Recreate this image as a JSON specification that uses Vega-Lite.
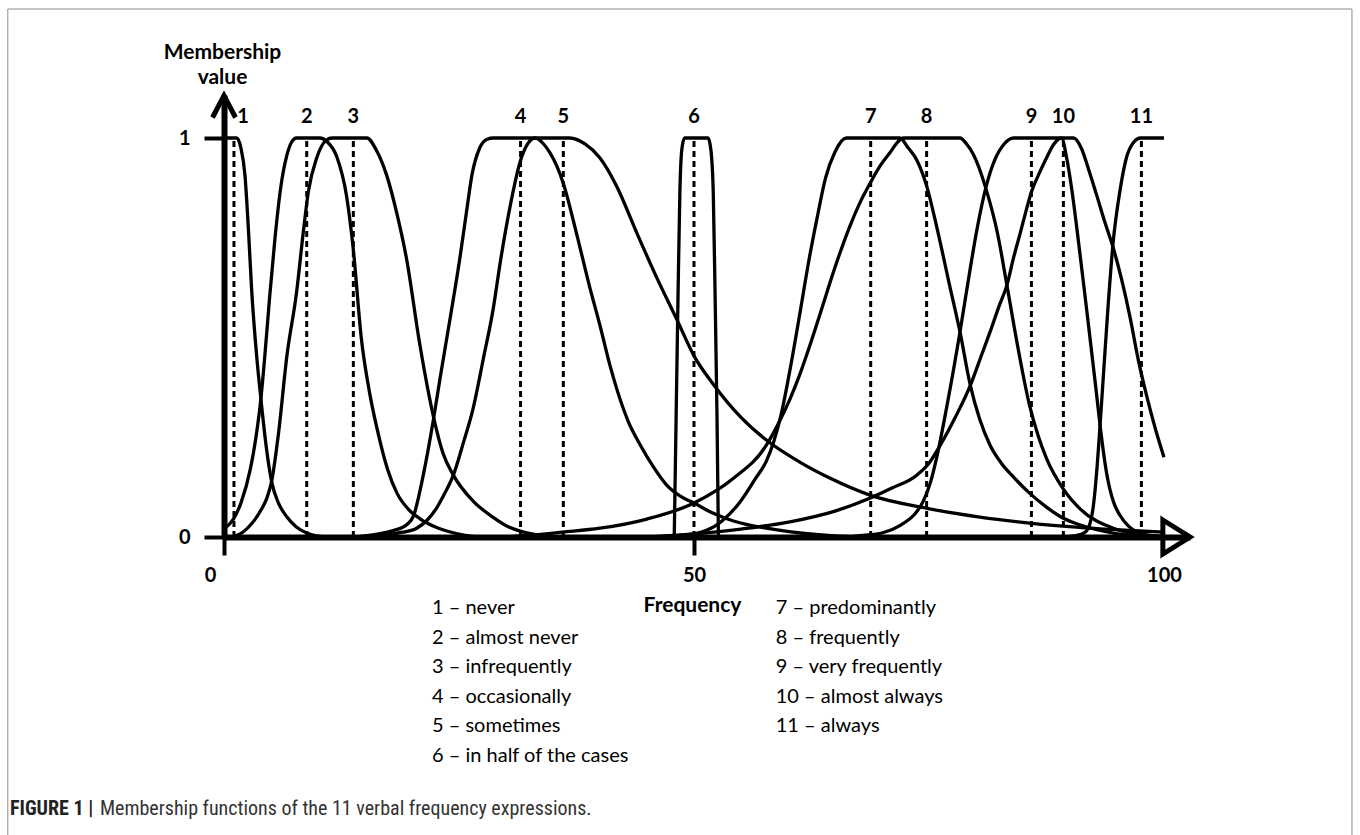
{
  "$schema": "https://vega.github.io/schema/vega-lite/v6.json",
  "width": 966,
  "height": 442,
  "autosize": "none",
  "padding": {"left": 224, "top": 95, "right": 170, "bottom": 298},
  "background": "white",
  "config": {"view": {"stroke": null}, "font": "Lato"},
  "datasets": {
    "curves": [
      {"id":1,"x":0,"y":1},{"id":1,"x":1.35,"y":1},{"id":1,"x":1.8,"y":0.975},{"id":1,"x":2.23,"y":0.907},{"id":1,"x":2.6,"y":0.77},{"id":1,"x":2.94,"y":0.62},{"id":1,"x":3.45,"y":0.46},{"id":1,"x":3.94,"y":0.343},{"id":1,"x":4.5,"y":0.225},{"id":1,"x":5.1,"y":0.135},{"id":1,"x":5.8,"y":0.085},{"id":1,"x":6.7,"y":0.05},{"id":1,"x":7.7,"y":0.025},{"id":1,"x":8.8,"y":0.01},{"id":1,"x":10,"y":0.002},{"id":1,"x":11,"y":0},
      {"id":2,"x":0,"y":0.02},{"id":2,"x":1,"y":0.045},{"id":2,"x":1.8,"y":0.085},{"id":2,"x":2.8,"y":0.17},{"id":2,"x":3.4,"y":0.25},{"id":2,"x":3.94,"y":0.35},{"id":2,"x":4.4,"y":0.47},{"id":2,"x":4.85,"y":0.6},{"id":2,"x":5.43,"y":0.75},{"id":2,"x":6,"y":0.87},{"id":2,"x":6.67,"y":0.955},{"id":2,"x":7.2,"y":0.99},{"id":2,"x":7.7,"y":1},{"id":2,"x":10.2,"y":1},{"id":2,"x":11,"y":0.99},{"id":2,"x":12,"y":0.953},{"id":2,"x":13.05,"y":0.853},{"id":2,"x":13.76,"y":0.72},{"id":2,"x":14.6,"y":0.5},{"id":2,"x":15.5,"y":0.36},{"id":2,"x":16.3,"y":0.27},{"id":2,"x":17.4,"y":0.17},{"id":2,"x":18.4,"y":0.11},{"id":2,"x":19.6,"y":0.07},{"id":2,"x":20.9,"y":0.045},{"id":2,"x":22.5,"y":0.025},{"id":2,"x":24.5,"y":0.01},{"id":2,"x":27,"y":0},
      {"id":3,"x":0.9,"y":0},{"id":3,"x":2,"y":0.012},{"id":3,"x":3,"y":0.035},{"id":3,"x":4,"y":0.07},{"id":3,"x":4.6,"y":0.1},{"id":3,"x":5.07,"y":0.14},{"id":3,"x":5.8,"y":0.26},{"id":3,"x":6.67,"y":0.45},{"id":3,"x":7.73,"y":0.615},{"id":3,"x":8.44,"y":0.765},{"id":3,"x":8.97,"y":0.865},{"id":3,"x":9.86,"y":0.95},{"id":3,"x":10.9,"y":0.995},{"id":3,"x":11.5,"y":1},{"id":3,"x":15.2,"y":1},{"id":3,"x":16.2,"y":0.97},{"id":3,"x":17.3,"y":0.907},{"id":3,"x":18.4,"y":0.81},{"id":3,"x":19.4,"y":0.7},{"id":3,"x":20.85,"y":0.48},{"id":3,"x":22.3,"y":0.3},{"id":3,"x":23.3,"y":0.21},{"id":3,"x":24.4,"y":0.155},{"id":3,"x":26.5,"y":0.09},{"id":3,"x":28.6,"y":0.05},{"id":3,"x":30.3,"y":0.025},{"id":3,"x":31.8,"y":0.013},{"id":3,"x":34,"y":0.003},{"id":3,"x":35,"y":0},
      {"id":4,"x":14,"y":0},{"id":4,"x":16,"y":0.006},{"id":4,"x":18,"y":0.016},{"id":4,"x":19.4,"y":0.03},{"id":4,"x":20.2,"y":0.055},{"id":4,"x":20.7,"y":0.1},{"id":4,"x":21.2,"y":0.155},{"id":4,"x":22.3,"y":0.297},{"id":4,"x":23,"y":0.4},{"id":4,"x":24,"y":0.54},{"id":4,"x":25.1,"y":0.7},{"id":4,"x":25.8,"y":0.815},{"id":4,"x":26.4,"y":0.91},{"id":4,"x":27.2,"y":0.975},{"id":4,"x":28,"y":0.997},{"id":4,"x":28.65,"y":1},{"id":4,"x":33.1,"y":1},{"id":4,"x":34,"y":0.985},{"id":4,"x":34.7,"y":0.962},{"id":4,"x":35.4,"y":0.93},{"id":4,"x":36.1,"y":0.886},{"id":4,"x":37.5,"y":0.761},{"id":4,"x":38.9,"y":0.627},{"id":4,"x":40,"y":0.53},{"id":4,"x":41.06,"y":0.43},{"id":4,"x":41.8,"y":0.37},{"id":4,"x":43,"y":0.29},{"id":4,"x":44.3,"y":0.23},{"id":4,"x":45.7,"y":0.175},{"id":4,"x":47.1,"y":0.13},{"id":4,"x":48.5,"y":0.103},{"id":4,"x":50,"y":0.085},{"id":4,"x":52,"y":0.06},{"id":4,"x":54.2,"y":0.04},{"id":4,"x":57.7,"y":0.022},{"id":4,"x":61.3,"y":0.01},{"id":4,"x":65,"y":0.003},{"id":4,"x":68,"y":0},
      {"id":5,"x":15,"y":0},{"id":5,"x":17,"y":0.005},{"id":5,"x":19,"y":0.012},{"id":5,"x":20.5,"y":0.022},{"id":5,"x":21.6,"y":0.042},{"id":5,"x":22.6,"y":0.072},{"id":5,"x":23.5,"y":0.11},{"id":5,"x":24.4,"y":0.155},{"id":5,"x":25.5,"y":0.239},{"id":5,"x":26.5,"y":0.322},{"id":5,"x":27.6,"y":0.448},{"id":5,"x":28.65,"y":0.573},{"id":5,"x":29.4,"y":0.69},{"id":5,"x":30.4,"y":0.824},{"id":5,"x":31.5,"y":0.94},{"id":5,"x":32.3,"y":0.985},{"id":5,"x":33.1,"y":1},{"id":5,"x":36.8,"y":1},{"id":5,"x":38.4,"y":0.985},{"id":5,"x":40,"y":0.95},{"id":5,"x":41.8,"y":0.878},{"id":5,"x":43.9,"y":0.763},{"id":5,"x":46,"y":0.652},{"id":5,"x":48.2,"y":0.544},{"id":5,"x":50,"y":0.454},{"id":5,"x":52.05,"y":0.383},{"id":5,"x":55,"y":0.3},{"id":5,"x":57.7,"y":0.243},{"id":5,"x":61.3,"y":0.187},{"id":5,"x":64.5,"y":0.147},{"id":5,"x":68.7,"y":0.105},{"id":5,"x":74.8,"y":0.072},{"id":5,"x":80.4,"y":0.05},{"id":5,"x":85.7,"y":0.035},{"id":5,"x":91,"y":0.024},{"id":5,"x":97.4,"y":0.015},{"id":5,"x":100,"y":0.012},
      {"id":6,"x":47.9,"y":0},{"id":6,"x":48.1,"y":0.3},{"id":6,"x":48.3,"y":0.6},{"id":6,"x":48.5,"y":0.865},{"id":6,"x":48.7,"y":0.97},{"id":6,"x":49,"y":1},{"id":6,"x":51.5,"y":1},{"id":6,"x":51.8,"y":0.97},{"id":6,"x":52.05,"y":0.865},{"id":6,"x":52.25,"y":0.6},{"id":6,"x":52.45,"y":0.3},{"id":6,"x":52.6,"y":0},
      {"id":7,"x":46,"y":0},{"id":7,"x":48,"y":0.003},{"id":7,"x":50,"y":0.008},{"id":7,"x":52.4,"y":0.03},{"id":7,"x":54.9,"y":0.088},{"id":7,"x":56.5,"y":0.145},{"id":7,"x":57.7,"y":0.19},{"id":7,"x":58.5,"y":0.24},{"id":7,"x":59.3,"y":0.31},{"id":7,"x":60.3,"y":0.43},{"id":7,"x":61.3,"y":0.565},{"id":7,"x":62.2,"y":0.69},{"id":7,"x":63.1,"y":0.8},{"id":7,"x":64,"y":0.9},{"id":7,"x":65,"y":0.965},{"id":7,"x":66.2,"y":1},{"id":7,"x":71.9,"y":1},{"id":7,"x":72.8,"y":0.975},{"id":7,"x":73.7,"y":0.945},{"id":7,"x":74.75,"y":0.88},{"id":7,"x":75.8,"y":0.78},{"id":7,"x":77.2,"y":0.63},{"id":7,"x":78.3,"y":0.514},{"id":7,"x":79.4,"y":0.38},{"id":7,"x":80.4,"y":0.295},{"id":7,"x":81.5,"y":0.23},{"id":7,"x":82.7,"y":0.185},{"id":7,"x":84,"y":0.15},{"id":7,"x":85.7,"y":0.11},{"id":7,"x":87.5,"y":0.075},{"id":7,"x":89.3,"y":0.047},{"id":7,"x":91.1,"y":0.03},{"id":7,"x":94.6,"y":0.01},{"id":7,"x":97,"y":0.003},{"id":7,"x":99,"y":0},
      {"id":8,"x":30,"y":0},{"id":8,"x":33,"y":0.005},{"id":8,"x":36,"y":0.012},{"id":8,"x":40,"y":0.022},{"id":8,"x":45,"y":0.045},{"id":8,"x":50,"y":0.085},{"id":8,"x":54.2,"y":0.147},{"id":8,"x":57.7,"y":0.23},{"id":8,"x":59.1,"y":0.29},{"id":8,"x":60.2,"y":0.345},{"id":8,"x":61.3,"y":0.41},{"id":8,"x":62.4,"y":0.485},{"id":8,"x":63.5,"y":0.565},{"id":8,"x":64.5,"y":0.64},{"id":8,"x":65.5,"y":0.71},{"id":8,"x":66.6,"y":0.78},{"id":8,"x":67.7,"y":0.84},{"id":8,"x":68.7,"y":0.885},{"id":8,"x":69.8,"y":0.93},{"id":8,"x":70.9,"y":0.965},{"id":8,"x":71.6,"y":0.988},{"id":8,"x":72.3,"y":1},{"id":8,"x":78.3,"y":1},{"id":8,"x":79,"y":0.985},{"id":8,"x":79.7,"y":0.96},{"id":8,"x":81.1,"y":0.87},{"id":8,"x":82.3,"y":0.76},{"id":8,"x":83.3,"y":0.63},{"id":8,"x":84.5,"y":0.47},{"id":8,"x":85.7,"y":0.33},{"id":8,"x":86.6,"y":0.255},{"id":8,"x":87.5,"y":0.197},{"id":8,"x":89.3,"y":0.12},{"id":8,"x":91.1,"y":0.07},{"id":8,"x":94.6,"y":0.022},{"id":8,"x":98,"y":0.005},{"id":8,"x":100,"y":0.002},
      {"id":9,"x":66,"y":0},{"id":9,"x":68,"y":0.004},{"id":9,"x":70,"y":0.01},{"id":9,"x":72,"y":0.03},{"id":9,"x":73.4,"y":0.055},{"id":9,"x":74.4,"y":0.09},{"id":9,"x":75.2,"y":0.14},{"id":9,"x":75.8,"y":0.197},{"id":9,"x":77,"y":0.34},{"id":9,"x":78.3,"y":0.514},{"id":9,"x":79.3,"y":0.66},{"id":9,"x":80.1,"y":0.77},{"id":9,"x":81.1,"y":0.88},{"id":9,"x":82,"y":0.945},{"id":9,"x":83,"y":0.985},{"id":9,"x":84,"y":1},{"id":9,"x":89.1,"y":1},{"id":9,"x":89.65,"y":0.95},{"id":9,"x":90.2,"y":0.87},{"id":9,"x":90.7,"y":0.78},{"id":9,"x":91.8,"y":0.565},{"id":9,"x":92.8,"y":0.364},{"id":9,"x":93.2,"y":0.28},{"id":9,"x":93.9,"y":0.16},{"id":9,"x":94.6,"y":0.09},{"id":9,"x":95.3,"y":0.055},{"id":9,"x":96.2,"y":0.028},{"id":9,"x":97.1,"y":0.013},{"id":9,"x":98.5,"y":0.003},{"id":9,"x":99.5,"y":0},
      {"id":10,"x":45,"y":0},{"id":10,"x":50,"y":0.008},{"id":10,"x":55,"y":0.02},{"id":10,"x":60.2,"y":0.038},{"id":10,"x":65,"y":0.065},{"id":10,"x":68.7,"y":0.097},{"id":10,"x":71,"y":0.122},{"id":10,"x":73.7,"y":0.155},{"id":10,"x":75,"y":0.185},{"id":10,"x":76.2,"y":0.23},{"id":10,"x":77.8,"y":0.3},{"id":10,"x":79.4,"y":0.38},{"id":10,"x":80.5,"y":0.45},{"id":10,"x":81.5,"y":0.514},{"id":10,"x":82.4,"y":0.575},{"id":10,"x":83.3,"y":0.632},{"id":10,"x":84,"y":0.7},{"id":10,"x":84.7,"y":0.761},{"id":10,"x":85.3,"y":0.815},{"id":10,"x":85.9,"y":0.865},{"id":10,"x":86.8,"y":0.915},{"id":10,"x":87.5,"y":0.95},{"id":10,"x":88.3,"y":0.985},{"id":10,"x":89.1,"y":1},{"id":10,"x":90.4,"y":1},{"id":10,"x":91.2,"y":0.975},{"id":10,"x":92,"y":0.92},{"id":10,"x":92.8,"y":0.86},{"id":10,"x":93.7,"y":0.79},{"id":10,"x":94.6,"y":0.725},{"id":10,"x":95.5,"y":0.645},{"id":10,"x":96.4,"y":0.55},{"id":10,"x":97.3,"y":0.44},{"id":10,"x":98.2,"y":0.35},{"id":10,"x":99.1,"y":0.27},{"id":10,"x":100,"y":0.2},
      {"id":11,"x":89,"y":0},{"id":11,"x":90.5,"y":0.003},{"id":11,"x":91.5,"y":0.01},{"id":11,"x":92,"y":0.025},{"id":11,"x":92.5,"y":0.08},{"id":11,"x":92.9,"y":0.18},{"id":11,"x":93.2,"y":0.28},{"id":11,"x":93.6,"y":0.42},{"id":11,"x":94,"y":0.56},{"id":11,"x":94.6,"y":0.74},{"id":11,"x":95.3,"y":0.865},{"id":11,"x":96,"y":0.95},{"id":11,"x":96.8,"y":0.99},{"id":11,"x":97.5,"y":1},{"id":11,"x":100,"y":1}
    ],
    "refs": [
      {"id":1,"name":"never","center":1.06},
      {"id":2,"name":"almost never","center":8.8},
      {"id":3,"name":"infrequently","center":13.76},
      {"id":4,"name":"occasionally","center":31.55},
      {"id":5,"name":"sometimes","center":36.1},
      {"id":6,"name":"in half of the cases","center":50},
      {"id":7,"name":"predominantly","center":68.8},
      {"id":8,"name":"frequently","center":74.75},
      {"id":9,"name":"very frequently","center":85.9},
      {"id":10,"name":"almost always","center":89.3},
      {"id":11,"name":"always","center":97.6}
    ]
  },
  "layer": [
    {
      "data": {"values": [{}]},
      "mark": {"type": "rect", "fill": null, "stroke": "#8c8c8c", "strokeWidth": 1},
      "encoding": {
        "x": {"datum": -23.0},
        "x2": {"datum": 120.0},
        "y": {"datum": 1.3233},
        "y2": {"datum": -0.85}
      }
    },
    {
      "data": {"name": "curves"},
      "mark": {"type": "line", "interpolate": "monotone", "color": "black", "strokeWidth": 3.3, "strokeJoin": "round"},
      "encoding": {
        "x": {
          "field": "x", "type": "quantitative",
          "scale": {"domain": [0, 102.77], "nice": false, "zero": false},
          "axis": {
            "title": "Frequency", "titleFont": "Lato", "titleFontSize": 21, "titleFontWeight": "bold", "titleColor": "black",
            "titleX": 468, "titleY": 68, "titleBaseline": "middle",
            "values": [0, 50, 100], "format": "d",
            "labelFont": "Lato", "labelFontSize": 20, "labelFontWeight": "bold", "labelColor": "black", "labelPadding": 10,
            "labelFlush": false, "labelOverlap": false,
            "labelOffset": {"expr": "datum.value == 0 ? -14 : 0"},
            "tickSize": 18, "tickWidth": 4, "tickColor": "black",
            "tickOpacity": {"expr": "datum.value == 100 ? 0 : 1"},
            "domainColor": "black", "domainWidth": 6, "grid": false
          }
        },
        "y": {
          "field": "y", "type": "quantitative",
          "scale": {"domain": [0, 1.1078], "nice": false},
          "axis": {
            "title": ["Membership", "value"], "titleFont": "Lato", "titleFontSize": 21, "titleFontWeight": "bold", "titleColor": "black",
            "titleAngle": 0, "titleAlign": "center", "titleBaseline": "alphabetic", "titleX": -2, "titleY": -37, "titleLineHeight": 25,
            "values": [0, 1], "format": "d",
            "labelFont": "Lato", "labelFontSize": 20, "labelFontWeight": "bold", "labelColor": "black", "labelPadding": 14,
            "tickSize": 20, "tickWidth": 4, "tickColor": "black",
            "domainColor": "black", "domainWidth": 6, "grid": false
          }
        },
        "detail": {"field": "id"}
      }
    },
    {
      "data": {"name": "refs"},
      "mark": {"type": "rule", "color": "black", "strokeWidth": 3, "strokeDash": [6, 4]},
      "encoding": {
        "x": {"field": "center", "type": "quantitative"},
        "y": {"datum": 0},
        "y2": {"datum": 1}
      }
    },
    {
      "data": {"name": "refs"},
      "mark": {"type": "text", "font": "Lato", "fontSize": 20, "fontWeight": "bold", "color": "black", "baseline": "middle", "align": "center", "dx": {"expr": "datum.id == 1 ? 9 : 0"}},
      "encoding": {
        "x": {"field": "center", "type": "quantitative"},
        "y": {"datum": 1.053},
        "text": {"field": "id", "type": "nominal"}
      }
    },
    {
      "data": {"values": [{}]},
      "mark": {"type": "point", "shape": "M-1,1L0,-0.9L1,1", "size": 529, "filled": false, "color": "black", "strokeWidth": 5, "opacity": 1},
      "encoding": {"x": {"datum": 0}, "y": {"datum": 1.0802}}
    },
    {
      "data": {"values": [{}]},
      "mark": {"type": "point", "shape": "M-0.8,-1L0.8,0L-0.8,1Z", "size": 1156, "filled": false, "color": "black", "strokeWidth": 5, "opacity": 1},
      "encoding": {"x": {"datum": 101.33}, "y": {"datum": 0}}
    },
    {
      "data": {"values": [{}]},
      "mark": {"type": "text", "font": "Lato", "fontSize": 20, "color": "black", "align": "left", "baseline": "alphabetic", "lineHeight": 29.5,
        "text": ["1 – never", "2 – almost never", "3 – infrequently", "4 – occasionally", "5 – sometimes", "6 – in half of the cases"]},
      "encoding": {"x": {"datum": 22.13}, "y": {"datum": -0.193}}
    },
    {
      "data": {"values": [{}]},
      "mark": {"type": "text", "font": "Lato", "fontSize": 20, "color": "black", "align": "left", "baseline": "alphabetic", "lineHeight": 29.5,
        "text": ["7 – predominantly", "8 – frequently", "9 – very frequently", "10 – almost always", "11 – always"]},
      "encoding": {"x": {"datum": 58.7}, "y": {"datum": -0.193}}
    },
    {
      "data": {"values": [{}]},
      "mark": {"type": "text", "font": "Liberation Sans Narrow, Arial Narrow, Roboto Condensed, Liberation Sans", "fontSize": 20, "fontWeight": "bold", "color": "#222", "align": "left", "baseline": "alphabetic", "text": "FIGURE 1 |"},
      "encoding": {"x": {"datum": -22.77}, "y": {"datum": -0.697}}
    },
    {
      "data": {"values": [{}]},
      "mark": {"type": "text", "font": "Liberation Sans Narrow, Arial Narrow, Roboto Condensed, Liberation Sans", "fontSize": 20, "color": "#333", "align": "left", "baseline": "alphabetic", "text": "Membership functions of the 11 verbal frequency expressions."},
      "encoding": {"x": {"datum": -13.2}, "y": {"datum": -0.697}}
    }
  ]
}
